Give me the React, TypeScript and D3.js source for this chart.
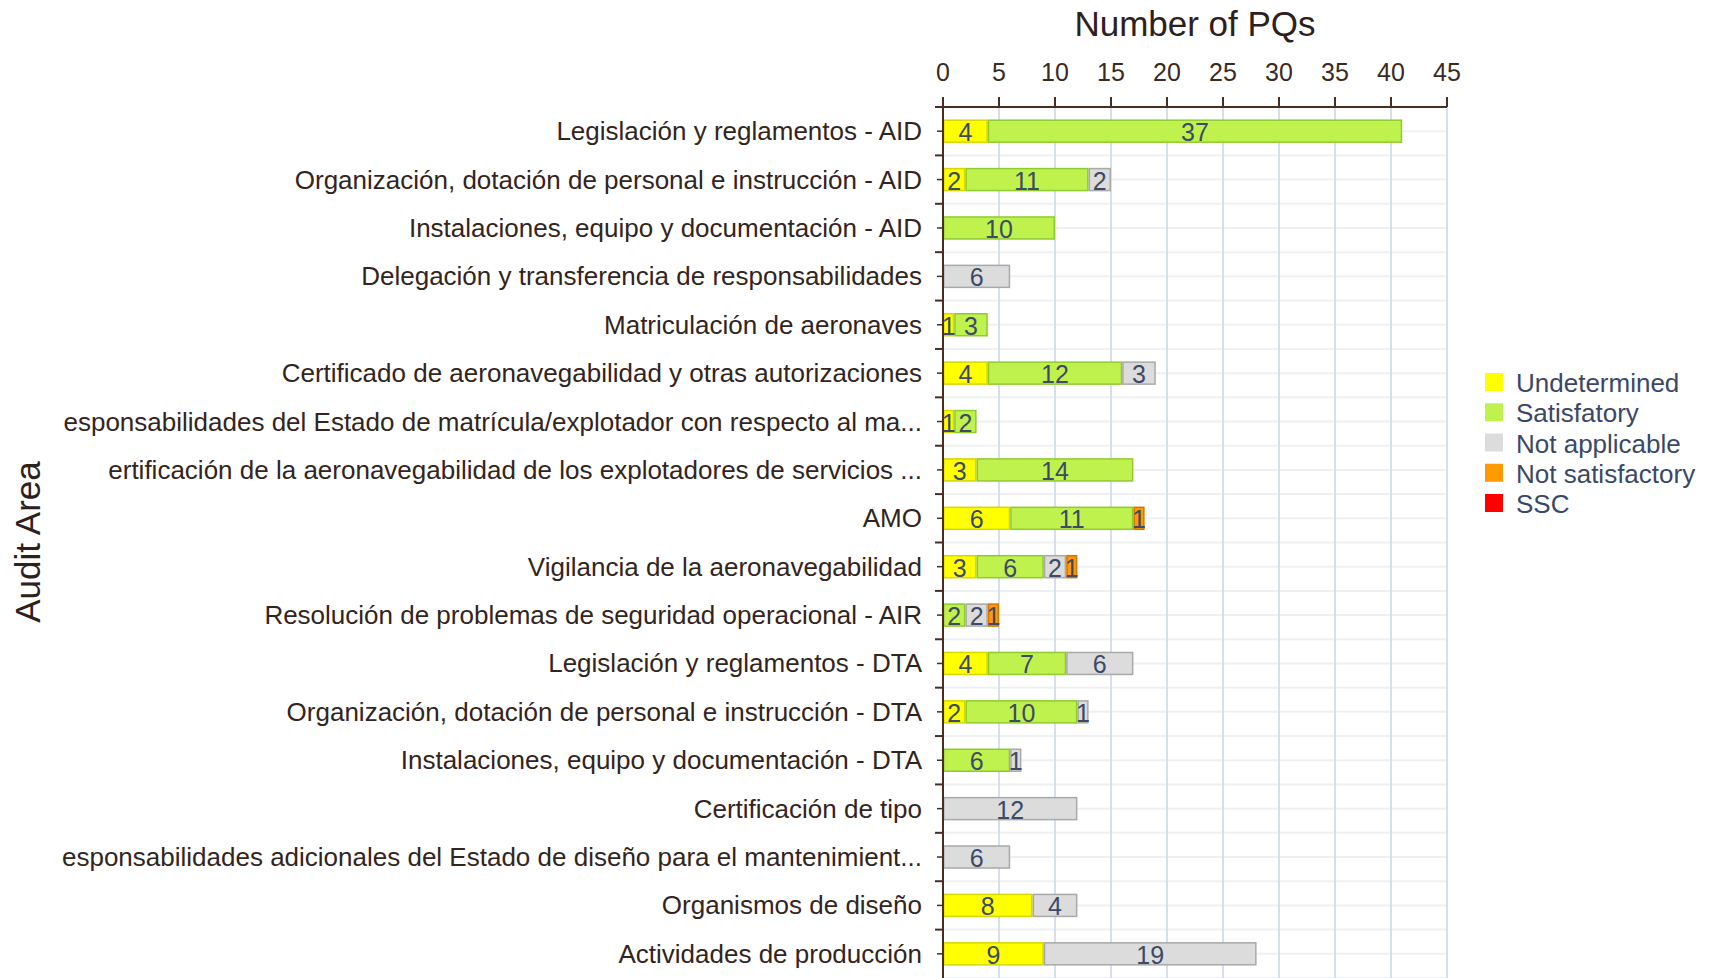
import React, { useEffect, useRef } from 'react';
import * as d3 from 'd3';

// Audit areas, top to bottom, as they appear (labels already cut in the source)
const areas = [
  'Legislación y reglamentos - AID',
  'Organización, dotación de personal e instrucción - AID',
  'Instalaciones, equipo y documentación - AID',
  'Delegación y transferencia de responsabilidades',
  'Matriculación de aeronaves',
  'Certificado de aeronavegabilidad y otras autorizaciones',
  'esponsabilidades del Estado de matrícula/explotador con respecto al ma...',
  'ertificación de la aeronavegabilidad de los explotadores de servicios ...',
  'AMO',
  'Vigilancia de la aeronavegabilidad',
  'Resolución de problemas de seguridad operacional - AIR',
  'Legislación y reglamentos - DTA',
  'Organización, dotación de personal e instrucción - DTA',
  'Instalaciones, equipo y documentación - DTA',
  'Certificación de tipo',
  'esponsabilidades adicionales del Estado de diseño para el mantenimient...',
  'Organismos de diseño',
  'Actividades de producción',
];

const statuses = ['Undetermined', 'Satisfatory', 'Not applicable', 'Not satisfactory', 'SSC'];

const undetermined = [4, 2, 0, 0, 1, 4, 1, 3, 6, 3, 0, 4, 2, 0, 0, 0, 8, 9];
const satisfactory = [37, 11, 10, 0, 3, 12, 2, 14, 11, 6, 2, 7, 10, 6, 0, 0, 0, 0];
const notApplicable = [0, 2, 0, 6, 0, 3, 0, 0, 0, 2, 2, 6, 1, 1, 12, 6, 4, 19];
const notSatisfactory = [0, 0, 0, 0, 0, 0, 0, 0, 1, 1, 1, 0, 0, 0, 0, 0, 0, 0];
const sscValues = [0, 0, 0, 0, 0, 0, 0, 0, 0, 0, 0, 0, 0, 0, 0, 0, 0, 0];

const xTicks = [0, 5, 10, 15, 20, 25, 30, 35, 40, 45];

const fills = ['#ffff00', '#c0f24e', '#dcdcdc', '#ff9b00', '#ff0000'];
const strokes = ['#d6d600', '#8fcb2e', '#a9a9a9', '#d77400', '#cc0000'];

const FONT = '"Liberation Sans", Arial, sans-serif';

export default function App() {
  const svgRef = useRef<SVGSVGElement>(null);

  useEffect(() => {
    if (!svgRef.current) return;
    const svg = d3.select(svgRef.current);
    svg.selectAll('*').remove();

    const left = 943;
    const right = 1447;
    const top = 107;
    const bottom = 978;
    const barHeight = 22;
    const axisColor = '#4b2d22';

    const rows = areas.map((area, i) => ({
      area,
      Undetermined: undetermined[i],
      Satisfatory: satisfactory[i],
      'Not applicable': notApplicable[i],
      'Not satisfactory': notSatisfactory[i],
      SSC: sscValues[i],
    }));

    const x = d3.scaleLinear().domain([0, 45]).range([left, right]);
    const y = d3.scaleBand<string>().domain(areas).range([top, bottom]).padding(0);
    const step = y.step();

    // grid
    const grid = svg.append('g');
    areas.forEach((a) => {
      const y0 = y(a)!;
      [y0 + step / 2, y0 + step].forEach((yy) => {
        grid.append('line')
          .attr('x1', left).attr('x2', right)
          .attr('y1', yy).attr('y2', yy)
          .attr('stroke', '#eef0f3').attr('stroke-width', 2);
      });
    });
    xTicks.slice(1).forEach((t) => {
      grid.append('line')
        .attr('x1', x(t)).attr('x2', x(t))
        .attr('y1', top).attr('y2', bottom)
        .attr('stroke', '#d7dfea').attr('stroke-width', 2);
    });

    // bars
    const stack = d3.stack<any>().keys(statuses);
    const series = stack(rows);
    const bars = svg.append('g');
    series.forEach((s, k) => {
      s.forEach((d, i) => {
        const v = d[1] - d[0];
        if (v <= 0) return;
        const cy = y(areas[i])! + step / 2;
        bars.append('rect')
          .attr('x', x(d[0]) + 0.75)
          .attr('y', cy - barHeight / 2)
          .attr('width', x(d[1]) - x(d[0]) - 1.5)
          .attr('height', barHeight)
          .attr('fill', fills[k])
          .attr('stroke', strokes[k])
          .attr('stroke-width', 1.5);
      });
    });
    series.forEach((s) => {
      s.forEach((d, i) => {
        const v = d[1] - d[0];
        if (v <= 0) return;
        const cy = y(areas[i])! + step / 2;
        bars.append('text')
          .attr('x', (x(d[0]) + x(d[1])) / 2)
          .attr('y', cy + 1)
          .attr('text-anchor', 'middle')
          .attr('dominant-baseline', 'central')
          .attr('font-family', FONT)
          .attr('font-size', 25)
          .attr('fill', '#3c4a68')
          .text(v);
      });
    });

    // top axis
    const ax = svg.append('g');
    ax.append('line')
      .attr('x1', left).attr('x2', right)
      .attr('y1', top).attr('y2', top)
      .attr('stroke', axisColor).attr('stroke-width', 2);
    xTicks.forEach((t) => {
      ax.append('line')
        .attr('x1', x(t)).attr('x2', x(t))
        .attr('y1', top - 10).attr('y2', top)
        .attr('stroke', axisColor).attr('stroke-width', 2);
      ax.append('text')
        .attr('x', x(t))
        .attr('y', 81)
        .attr('text-anchor', 'middle')
        .attr('font-family', FONT)
        .attr('font-size', 25)
        .attr('fill', '#3a2a24')
        .text(t);
    });
    svg.append('text')
      .attr('x', (left + right) / 2)
      .attr('y', 36)
      .attr('text-anchor', 'middle')
      .attr('font-family', FONT)
      .attr('font-size', 35)
      .attr('fill', '#2e201b')
      .text('Number of PQs');

    // left axis
    const ay = svg.append('g');
    ay.append('line')
      .attr('x1', left).attr('x2', left)
      .attr('y1', top - 10).attr('y2', bottom)
      .attr('stroke', axisColor).attr('stroke-width', 2);
    areas.forEach((a) => {
      const y0 = y(a)!;
      ay.append('line')
        .attr('x1', left - 8).attr('x2', left)
        .attr('y1', y0).attr('y2', y0)
        .attr('stroke', axisColor).attr('stroke-width', 2);
      ay.append('line')
        .attr('x1', left - 6).attr('x2', left - 1)
        .attr('y1', y0 + step / 2).attr('y2', y0 + step / 2)
        .attr('stroke', axisColor).attr('stroke-width', 1.5);
      ay.append('text')
        .attr('x', 922)
        .attr('y', y0 + step / 2)
        .attr('text-anchor', 'end')
        .attr('dominant-baseline', 'central')
        .attr('font-family', FONT)
        .attr('font-size', 26)
        .attr('fill', '#33241e')
        .text(a);
    });
    svg.append('text')
      .attr('transform', `translate(27, 542) rotate(-90)`)
      .attr('text-anchor', 'middle')
      .attr('dominant-baseline', 'central')
      .attr('font-family', FONT)
      .attr('font-size', 35)
      .attr('fill', '#2e201b')
      .text('Audit Area');

    // legend
    const lg = svg.append('g');
    statuses.forEach((s, k) => {
      const cy = 382 + k * 30.25;
      lg.append('rect')
        .attr('x', 1485).attr('y', cy - 9)
        .attr('width', 18).attr('height', 18)
        .attr('fill', fills[k]);
      lg.append('text')
        .attr('x', 1516)
        .attr('y', cy + 1)
        .attr('dominant-baseline', 'central')
        .attr('font-family', FONT)
        .attr('font-size', 26)
        .attr('fill', '#3a4868')
        .text(s);
    });
  }, []);

  return (
    <svg
      ref={svgRef}
      width={1711}
      height={978}
      style={{ position: 'absolute', left: 0, top: 0, background: '#fff' }}
    />
  );
}
